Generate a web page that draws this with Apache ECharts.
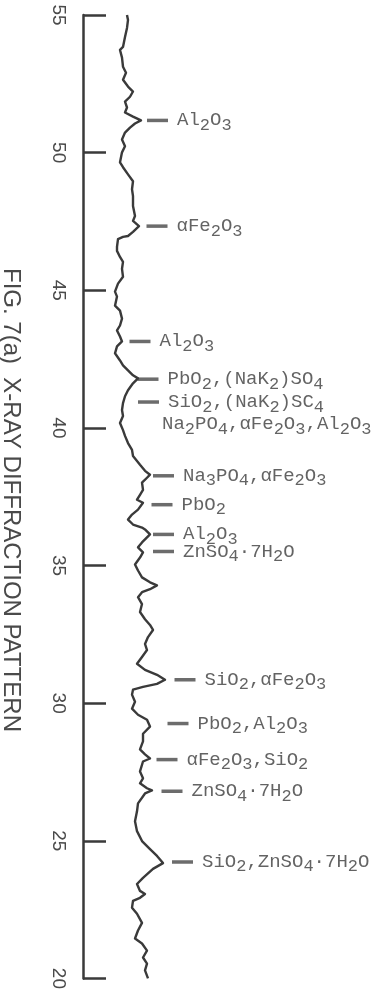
<!DOCTYPE html>
<html>
<head>
<meta charset="utf-8">
<script src="https://cdn.jsdelivr.net/npm/echarts@6/dist/echarts.min.js"></script>
<style>
  html, body { margin: 0; padding: 0; background: #fff; }
  #main { width: 382px; height: 992px; }
</style>
</head>
<body>
<div id="main"></div>
<script>
// 2-theta trace (intensity in arbitrary units)
const traceIntensity = [44,45,44,42,40,37,39,40,43,40, 45,50,47,42,44,42,50,58,52,47,
  42,39,42,39,37,40,45,50,49,50, 50,52,50,56,50,45,40,35,34,34,
  37,40,39,40,35,32,34,32,37,39, 37,34,37,39,34,32,37,40,45,50,
  55,50,45,42,40,39,40,37,40,42, 45,49,50,54,57,62,67,64,59,60,
  57,54,60,62,55,49,45,50,59,62, 67,64,59,55,60,57,52,55,59,67,
  74,67,59,55,59,57,62,67,70,65, 62,64,59,54,62,74,82,74,60,50,
  49,52,49,55,64,67,60,60,57,62, 67,60,57,60,57,64,69,62,55,54,
  52,54,59,67,74,80,70,60,54,57, 62,57,50,49,54,59,55,52,59,64,
  60,64,62,65];
const traceAngle = [55.0,54.82,54.53,54.2,53.84,53.73,53.45,53.12,52.9,52.65,
  52.4,52.22,52.03,51.85,51.64,51.46,51.31,51.17,51.06,50.91,
  50.73,50.48,50.23,50.01,49.65,49.47,49.21,48.96,48.67,48.42,
  48.06,47.7,47.52,47.33,47.12,46.97,46.94,46.86,46.58,46.43,
  46.21,46.03,45.78,45.49,45.24,44.95,44.77,44.44,44.26,43.97,
  43.72,43.54,43.32,43.14,42.96,42.71,42.45,42.27,42.09,41.91,
  41.8,41.62,41.37,41.15,40.9,40.65,40.43,40.18,39.92,39.71,
  39.45,39.2,38.98,38.8,38.66,38.44,38.3,38.19,38.01,37.75,
  37.57,37.39,37.28,37.21,37.03,36.85,36.67,36.49,36.38,36.31,
  36.13,36.02,35.84,35.66,35.48,35.29,35.04,34.82,34.57,34.39,
  34.28,34.14,34.03,33.85,33.6,33.31,33.05,32.84,32.66,32.4,
  32.15,31.93,31.68,31.43,31.21,31.03,30.85,30.7,30.59,30.49,
  30.31,30.05,29.8,29.58,29.4,29.15,28.89,28.61,28.32,28.14,
  27.99,27.88,27.52,27.27,27.09,26.91,26.83,26.72,26.36,26.07,
  25.71,25.35,24.99,24.7,24.45,24.19,23.98,23.65,23.43,23.18,
  23.07,22.93,22.82,22.57,22.35,22.02,21.74,21.45,21.27,21.01,
  20.76,20.54,20.29,20.0];

// peak markers
const markerAngle = [51.17, 47.33, 43.14, 41.77, 40.94, 38.26, 37.21, 36.13, 35.51, 30.85, 29.26, 27.95, 26.80, 24.23];
const markerIntensity = [74.5, 74, 57, 65, 65.5, 80.5, 79, 80.5, 80.5, 102, 95, 84, 89, 99.5];
const markerLabel = [
  'Al{s|2}O{s|3}',
  'αFe{s|2}O{s|3}',
  'Al{s|2}O{s|3}',
  'PbO{s|2},(NaK{s|2})SO{s|4}',
  'SiO{s|2},(NaK{s|2})SC{s|4}',
  'Na{s|3}PO{s|4},αFe{s|2}O{s|3}',
  'PbO{s|2}',
  'Al{s|2}O{s|3}',
  'ZnSO{s|4}·7H{s|2}O',
  'SiO{s|2},αFe{s|2}O{s|3}',
  'PbO{s|2},Al{s|2}O{s|3}',
  'αFe{s|2}O{s|3},SiO{s|2}',
  'ZnSO{s|4}·7H{s|2}O',
  'SiO{s|2},ZnSO{s|4}·7H{s|2}O'
];
// second line under the SiO2 marker (no dash of its own)
const noteAngle = [40.14];
const noteIntensity = [79];
const noteLabel = ['Na{s|2}PO{s|4},αFe{s|2}O{s|3},Al{s|2}O{s|3}'];

const angleTicks = [20, 55, 5]; // min, max, step

const ink = '#3a3a3a';
const textInk = '#3c3c3c';
const mono = '"Liberation Mono", "DejaVu Sans Mono", monospace';

const chart = echarts.init(document.getElementById('main'));

const labelStyle = {
  color: textInk,
  fontFamily: mono,
  fontSize: 19,
  rich: {
    s: { color: textInk, fontFamily: mono, fontSize: 17, padding: [10, 0, 0, 0] }
  }
};

const option = {
  backgroundColor: '#fff',
  animation: false,
  grid: { left: 83, right: 179, top: 15, bottom: 9 },
  xAxis: { type: 'value', min: 0, max: 120, show: false },
  yAxis: {
    type: 'value',
    min: angleTicks[0],
    max: angleTicks[1],
    interval: angleTicks[2],
    position: 'left',
    splitLine: { show: false },
    axisLine: { show: true, lineStyle: { color: ink, width: 2.5 } },
    axisTick: { show: true, inside: true, length: 23, lineStyle: { color: ink, width: 2.5 } },
    axisLabel: {
      rotate: -90,
      margin: 15,
      color: '#4a4a4a',
      fontSize: 19,
      fontFamily: '"Liberation Sans", Arial, sans-serif'
    }
  },
  graphic: [{
    type: 'text',
    x: 11,
    y: 500,
    rotation: -Math.PI / 2,
    style: {
      text: 'FIG. 7(a)  X-RAY DIFFRACTION PATTERN',
      fontSize: 24,
      fontFamily: '"Liberation Sans", Arial, sans-serif',
      fill: '#4a4a4a',
      align: 'center',
      verticalAlign: 'middle',
      textAlign: 'center',
      textVerticalAlign: 'middle'
    }
  }],
  series: [
    {
      type: 'line',
      data: traceIntensity.map((v, i) => [v, traceAngle[i]]),
      showSymbol: false,
      symbol: 'none',
      lineStyle: { color: ink, width: 2.4, join: 'round' },
      clip: false
    },
    {
      type: 'scatter',
      data: markerIntensity.map((v, i) => ({ value: [v, markerAngle[i]], name: markerLabel[i] })),
      symbol: 'rect',
      symbolSize: [21, 3.5],
      itemStyle: { color: '#474747' },
      clip: false,
      label: Object.assign({
        show: true,
        position: 'right',
        distance: 9,
        formatter: (p) => p.name
      }, labelStyle)
    },
    {
      type: 'scatter',
      data: noteIntensity.map((v, i) => ({ value: [v, noteAngle[i]], name: noteLabel[i] })),
      symbol: 'rect',
      symbolSize: 0.1,
      itemStyle: { color: 'rgba(0,0,0,0)' },
      clip: false,
      label: Object.assign({
        show: true,
        position: 'right',
        distance: 0,
        formatter: (p) => p.name
      }, labelStyle)
    }
  ]
};

chart.setOption(option);
</script>
</body>
</html>
